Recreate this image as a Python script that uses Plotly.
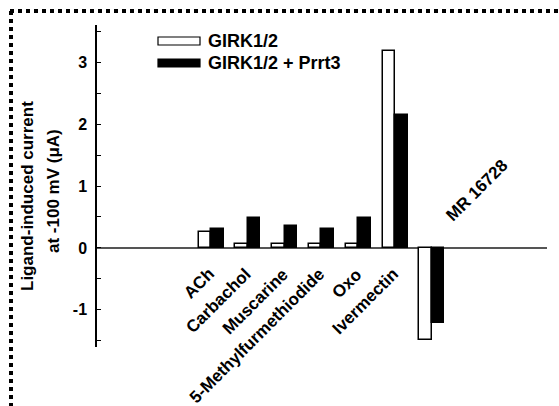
import plotly.graph_objects as go

categories = ["ACh", "Carbachol", "Muscarine", "5-Methylfurmethiodide", "Oxo", "Ivermectin", "MR 16728"]
girk = [0.26, 0.06, 0.06, 0.06, 0.06, 3.18, -1.48]
girk_prrt3 = [0.31, 0.48, 0.355, 0.31, 0.48, 2.15, -1.21]
series_names = ["GIRK1/2", "GIRK1/2 + Prrt3"]
y_ticks = [-1, 0, 1, 2, 3]

FONT = "Liberation Sans, Arial, sans-serif"
W, H = 559, 406
L, R, T, B = 97, 12, 25, 59
PW, PH = W - L - R, H - T - B

def px(xp):
    return (xp - L) / PW

def py(yp):
    return (H - B - yp) / PH

xs = list(range(len(categories)))
bw = 0.34

fig = go.Figure()
fig.add_trace(go.Bar(x=xs, y=girk, width=bw, offset=-bw, name=series_names[0],
                     marker=dict(color="white", line=dict(color="black", width=1.5)),
                     showlegend=False))
fig.add_trace(go.Bar(x=xs, y=girk_prrt3, width=bw, offset=0, name=series_names[1],
                     marker=dict(color="black", line=dict(color="black", width=1.5)),
                     showlegend=False))

annotations = []
for i, c in enumerate(categories):
    if girk[i] < 0:
        annotations.append(dict(x=i + 0.22, y=0, xref="x", yref="y", text="<b>%s</b>" % c,
                                textangle=-45, showarrow=False, xanchor="left", yanchor="bottom",
                                yshift=20, font=dict(family=FONT, size=17, color="black")))
    else:
        annotations.append(dict(x=i + 0.27, y=0, xref="x", yref="y", text="<b>%s</b>" % c,
                                textangle=-45, showarrow=False, xanchor="right", yanchor="top",
                                yshift=-14, font=dict(family=FONT, size=17, color="black")))

# y-axis title (two lines)
annotations.append(dict(x=px(28), y=py(196), xref="paper", yref="paper",
                        text="<b>Ligand-induced current</b>", textangle=-90, showarrow=False,
                        xanchor="center", yanchor="middle",
                        font=dict(family=FONT, size=17, color="black")))
annotations.append(dict(x=px(53), y=py(191), xref="paper", yref="paper",
                        text="<b>at -100 mV (\u03bcA)</b>", textangle=-90, showarrow=False,
                        xanchor="center", yanchor="middle",
                        font=dict(family=FONT, size=17, color="black")))

# legend
shapes = []
leg_rows = [(41, "white"), (63, "black")]
for (cy, col), name in zip(leg_rows, series_names):
    shapes.append(dict(type="rect", xref="paper", yref="paper",
                       x0=px(158), x1=px(200), y0=py(cy - 4), y1=py(cy + 4),
                       fillcolor=col, line=dict(color="black", width=1.2)))
    annotations.append(dict(x=px(206), y=py(cy), xref="paper", yref="paper",
                            text="<b>%s</b>" % name, showarrow=False, xanchor="left",
                            yanchor="middle", font=dict(family=FONT, size=18, color="black")))

# dotted frame
shapes.append(dict(type="line", xref="paper", yref="paper", x0=px(10), x1=px(W + 5),
                   y0=py(11), y1=py(11), line=dict(color="black", width=4, dash="4px,4px")))
shapes.append(dict(type="line", xref="paper", yref="paper", x0=px(11), x1=px(11),
                   y0=py(11), y1=py(H + 5), line=dict(color="black", width=4, dash="4px,4px")))

fig.update_layout(
    width=W, height=H,
    margin=dict(l=L, r=R, t=T, b=B, pad=0),
    paper_bgcolor="white", plot_bgcolor="white",
    barmode="overlay",
    bargap=0,
    annotations=annotations,
    shapes=shapes,
    font=dict(family=FONT, color="black"),
    xaxis=dict(range=[-3.1, 9.13], visible=False, fixedrange=True),
    yaxis=dict(range=[-1.6, 3.6], tickvals=y_ticks, ticktext=["<b>%d</b>" % v for v in y_ticks],
               ticks="inside", ticklen=4, tickwidth=1.2, tickcolor="black",
               showline=True, linecolor="black", linewidth=1.5,
               showgrid=False, zeroline=True, zerolinecolor="#555555", zerolinewidth=2,
               tickfont=dict(family=FONT, size=16, color="black"),
               ticklabelstandoff=5,
               minor=dict(tickvals=[-1.5, -0.5, 0.5, 1.5, 2.5, 3.5], ticks="inside", ticklen=4,
                          tickwidth=1.2, tickcolor="black", showgrid=False)),
)

fig.write_html("out.html")
